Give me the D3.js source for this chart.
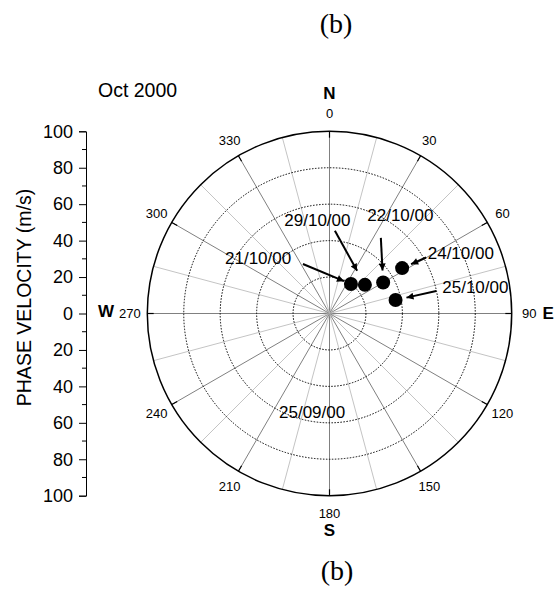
<!DOCTYPE html>
<html><head><meta charset="utf-8">
<script src="https://cdn.jsdelivr.net/npm/d3@7"></script>
<style>
html,body{margin:0;padding:0;background:#fff;}
svg{display:block;font-family:"Liberation Sans",Arial,Helvetica,sans-serif;}
</style></head>
<body>
<svg id="chart" width="560" height="596"></svg>
<script>
// ---- data ----
const dates      = ["21/10/00", "29/10/00", "22/10/00", "24/10/00", "25/10/00"];
const directions = [36, 51, 60, 58, 78.5];   // degrees from North, clockwise
const speeds     = [20, 25, 34, 47, 37];     // phase velocity, m/s
const extraLabel = "25/09/00";
const extraLabelDir = 190, extraLabelSpeed = 55;
const ringValues = [20, 40, 60, 80, 100];
const angleTicks = [0, 30, 60, 90, 120, 150, 180, 210, 240, 270, 300, 330];
const axisTicks  = [-100, -80, -60, -40, -20, 0, 20, 40, 60, 80, 100];
const compass    = [{t:"N", a:0}, {t:"E", a:90}, {t:"S", a:180}, {t:"W", a:270}];

// ---- annotation layout (pixel offsets from each point) ----
const annLayout = {
  "21/10/00": {lx:-59.7, ly:-19.7, anchor:"end",    tx:-48,  ty:-20,  gap:7.5},
  "29/10/00": {lx:-47.5, ly:-59.2, anchor:"middle", tx:-30,  ty:-54,  gap:16},
  "22/10/00": {lx:17.2,  ly:-61.3, anchor:"middle", tx:-2.3, ty:-44.6,gap:12},
  "24/10/00": {lx:25.6,  ly:-9.3,  anchor:"start",  tx:24,   ty:-10.6,gap:9.8},
  "25/10/00": {lx:46.7,  ly:-7.3,  anchor:"start",  tx:40.7, ty:-9,   gap:11.2}
};

const svg = d3.select("#chart");
const cx = 329.5, cy = 313.5, R = 182.2;
const r = d3.scaleLinear().domain([0, 100]).range([0, R]);
const toXY = (deg, v) => {
  const a = deg * Math.PI / 180;
  return [cx + r(v) * Math.sin(a), cy - r(v) * Math.cos(a)];
};

// titles
svg.append("text").attr("x", 336).attr("y", 33).attr("text-anchor", "middle")
  .style("font-family", "'Liberation Serif','Times New Roman',serif").style("font-size", "28px").text("(b)");
svg.append("text").attr("x", 337).attr("y", 580).attr("text-anchor", "middle")
  .style("font-family", "'Liberation Serif','Times New Roman',serif").style("font-size", "28px").text("(b)");
svg.append("text").attr("x", 98).attr("y", 97).style("font-size", "19.5px").text("Oct 2000");

// radial grid lines every 15 degrees
const g = svg.append("g");
const spokes = d3.range(0, 360, 15);
g.selectAll("line.spoke").data(spokes).join("line")
  .attr("x1", cx).attr("y1", cy)
  .attr("x2", d => toXY(d, 100)[0]).attr("y2", d => toXY(d, 100)[1])
  .attr("stroke", d => d % 30 === 0 ? "#808080" : "#c4c4c4")
  .attr("stroke-width", 1);

// dotted rings
g.selectAll("circle.ring").data(ringValues.filter(v => v < 100)).join("circle")
  .attr("cx", cx).attr("cy", cy).attr("r", d => r(d))
  .attr("fill", "none").attr("stroke", "#000").attr("stroke-width", 1)
  .attr("stroke-dasharray", "1.5,1.5");
// outer ring
g.append("circle").attr("cx", cx).attr("cy", cy).attr("r", r(100))
  .attr("fill", "none").attr("stroke", "#000").attr("stroke-width", 1.5);

// ticks on outer ring
g.selectAll("line.tick").data(angleTicks).join("line")
  .attr("x1", d => toXY(d, 100)[0]).attr("y1", d => toXY(d, 100)[1])
  .attr("x2", d => toXY(d, 96.5)[0]).attr("y2", d => toXY(d, 96.5)[1])
  .attr("stroke", "#000").attr("stroke-width", 1.2);

// angle labels
const angLab = g.selectAll("text.ang").data(angleTicks).join("text")
  .attr("x", d => cx + (R + 17.5) * Math.sin(d * Math.PI / 180))
  .attr("y", d => cy - (R + 17.5) * Math.cos(d * Math.PI / 180))
  .attr("text-anchor", "middle").attr("dominant-baseline", "central")
  .style("font-size", "13px").text(d => d);

// compass letters
const labW = {};
angLab.each(function(d){ labW[d] = this.getComputedTextLength(); });
compass.forEach(c => {
  const t = g.append("text").style("font-size", "17px").style("font-weight", "bold")
    .attr("dominant-baseline", "central").text(c.t);
  if (c.a === 0) t.attr("x", cx).attr("y", cy - 220).attr("text-anchor", "middle");
  else if (c.a === 180) t.attr("x", cx).attr("y", cy + 217).attr("text-anchor", "middle");
  else if (c.a === 90) t.attr("x", cx + R + 17.5 + labW[90] / 2 + 6).attr("y", cy).attr("text-anchor", "start");
  else t.attr("x", cx - R - 17.5 - labW[270] / 2 - 5).attr("y", cy - 2).attr("text-anchor", "end");
});

// left velocity axis
const yAx = d3.scaleLinear().domain([-100, 100]).range([cy + R, cy - R]);
const axisG = svg.append("g").attr("transform", "translate(86,0)");
axisG.call(d3.axisLeft(yAx).tickValues(axisTicks).tickFormat(d => Math.abs(d))
  .tickSize(7).tickPadding(6));
axisG.select(".domain").attr("stroke", "#000");
axisG.selectAll(".tick text").style("font-size", "18px")
  .style("font-family", "'Liberation Sans',Arial,sans-serif").attr("fill", "#000");
axisG.selectAll(".tick line").attr("stroke", "#000");
const minor = d3.range(-90, 100, 20);
axisG.selectAll("line.minor").data(minor).join("line")
  .attr("x1", 0).attr("x2", -4).attr("y1", d => yAx(d)).attr("y2", d => yAx(d))
  .attr("stroke", "#000");
svg.append("text").attr("transform", `translate(31,${297.5}) rotate(-90)`)
  .attr("text-anchor", "middle").style("font-size", "19.5px").text("PHASE VELOCITY (m/s)");

// arrow marker
svg.append("defs").append("marker").attr("id", "arr")
  .attr("viewBox", "0 0 10 10").attr("refX", 10).attr("refY", 5)
  .attr("markerWidth", 9).attr("markerHeight", 7).attr("markerUnits", "userSpaceOnUse")
  .attr("orient", "auto")
  .append("path").attr("d", "M0,0 L10,5 L0,10 Z").attr("fill", "#000");

// points
const pts = dates.map((d, i) => ({date: d, dir: directions[i], v: speeds[i]}));
svg.append("g").selectAll("circle").data(pts).join("circle")
  .attr("cx", d => toXY(d.dir, d.v)[0]).attr("cy", d => toXY(d.dir, d.v)[1])
  .attr("r", 7).attr("fill", "#000");

// annotations
const ann = svg.append("g");
pts.forEach(p => {
  const L = annLayout[p.date];
  const [px, py] = toXY(p.dir, p.v);
  const len = Math.hypot(L.tx, L.ty);
  const ux = L.tx / len, uy = L.ty / len;
  ann.append("line")
    .attr("x1", px + L.tx).attr("y1", py + L.ty)
    .attr("x2", px + ux * L.gap).attr("y2", py + uy * L.gap)
    .attr("stroke", "#000").attr("stroke-width", 2).attr("marker-end", "url(#arr)");
  ann.append("text").attr("x", px + L.lx).attr("y", py + L.ly)
    .attr("text-anchor", L.anchor).style("font-size", "17px").text(p.date);
});
const [ex, ey] = toXY(extraLabelDir, extraLabelSpeed);
ann.append("text").attr("x", ex).attr("y", ey + 6).attr("text-anchor", "middle")
  .style("font-size", "17px").text(extraLabel);
</script>
</body></html>
